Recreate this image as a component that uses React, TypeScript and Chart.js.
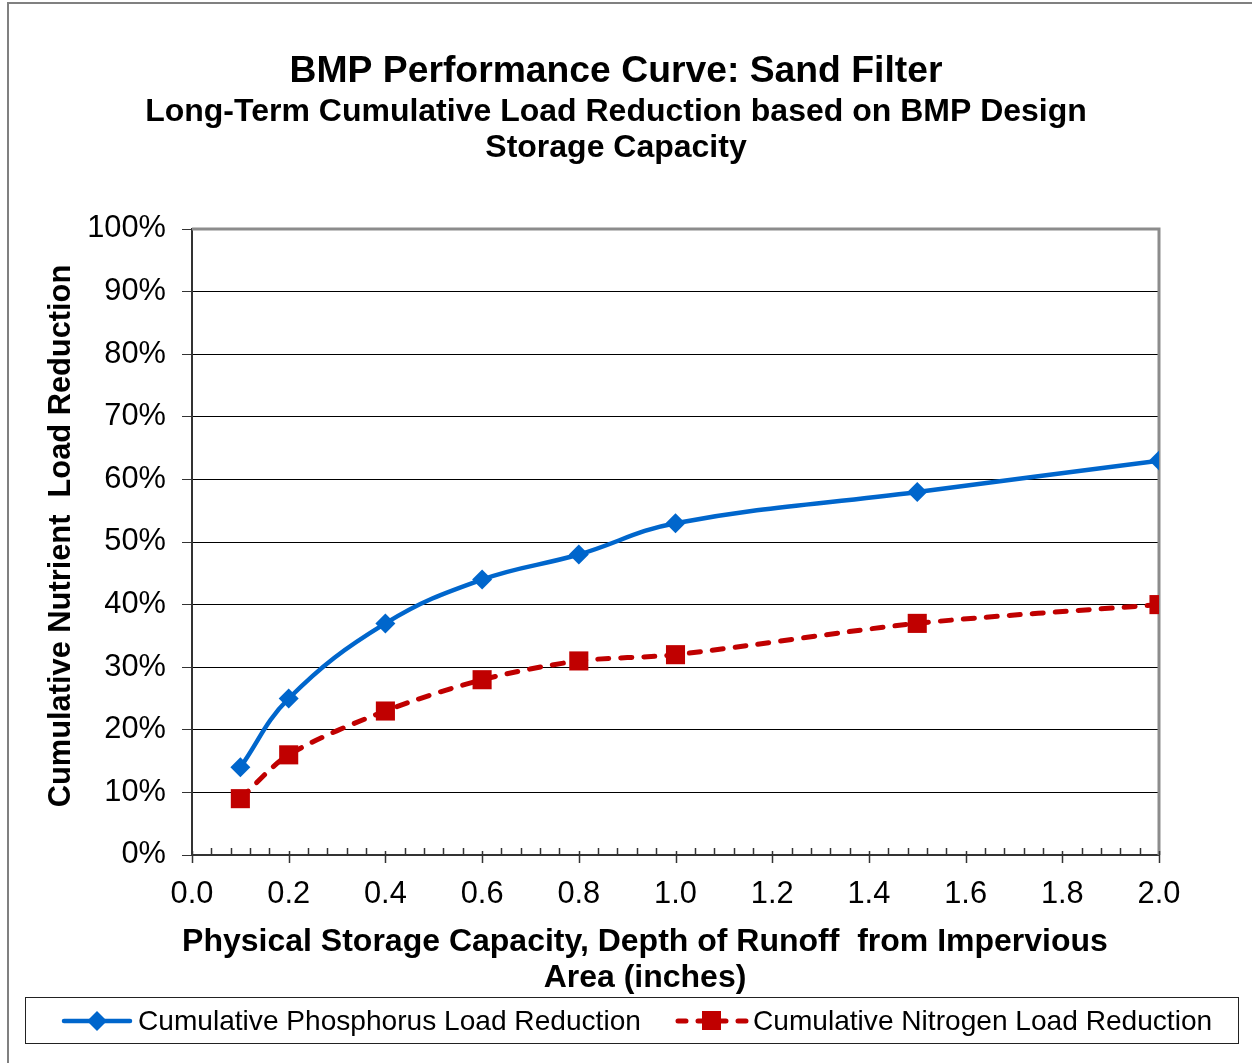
import React, { useEffect, useRef } from "react";
import { Chart, registerables } from "chart.js";

Chart.register(...registerables);

const xValues = [0.1, 0.2, 0.4, 0.6, 0.8, 1.0, 1.5, 2.0];
const phosphorus = [14, 25, 37, 44, 48, 53, 58, 63];
const nitrogen = [9, 16, 23, 28, 31, 32, 37, 40];
const seriesNames = ["Cumulative Phosphorus Load Reduction", "Cumulative Nitrogen Load Reduction"];
const titleText = "BMP Performance Curve: Sand Filter";
const subtitleLines = ["Long-Term Cumulative Load Reduction based on BMP Design", "Storage Capacity"];
const yTitle = "Cumulative Nutrient  Load Reduction";
const xTitleLines = ["Physical Storage Capacity, Depth of Runoff  from Impervious", "Area (inches)"];

const BLUE = "#0066CC";
const RED = "#C00000";
const FONT = '"Liberation Sans", Arial, sans-serif';

export default function App() {
  const ref = useRef<HTMLCanvasElement>(null);
  useEffect(() => {
    if (!ref.current) return;
    const decor = {
      id: "decor",
      beforeDraw(chart: any) {
        const ctx = chart.ctx;
        ctx.save();
        ctx.fillStyle = "#fff";
        ctx.fillRect(0, 0, chart.width, chart.height);
        ctx.strokeStyle = "#808080";
        ctx.lineWidth = 2;
        ctx.strokeRect(8, 3, 2000, 2000);
        ctx.restore();
      },
      beforeDatasetsDraw(chart: any) {
        const ctx = chart.ctx;
        const a = chart.chartArea;
        const xs = chart.scales.x;
        ctx.save();
        ctx.strokeStyle = "#8c8c8c";
        ctx.lineWidth = 3;
        ctx.beginPath();
        ctx.moveTo(a.left, a.top);
        ctx.lineTo(a.right, a.top);
        ctx.lineTo(a.right, a.bottom);
        ctx.stroke();
        ctx.strokeStyle = "#333";
        ctx.lineWidth = 1.5;
        for (let i = 0; i <= 50; i++) {
          const v = i * 0.04;
          const px = Math.round(xs.getPixelForValue(v)) + 0.5;
          ctx.beginPath();
          if (i % 5 === 0) {
            ctx.moveTo(px, a.bottom - 4);
            ctx.lineTo(px, a.bottom + 8);
          } else {
            ctx.moveTo(px, a.bottom - 7);
            ctx.lineTo(px, a.bottom);
          }
          ctx.stroke();
        }
        ctx.restore();
      },
      afterDraw(chart: any) {
        const ctx = chart.ctx;
        ctx.save();
        ctx.fillStyle = "#000";
        ctx.textAlign = "center";
        ctx.textBaseline = "middle";
        ctx.font = `bold 37.3px ${FONT}`;
        ctx.fillText(titleText, 616, 72);
        ctx.font = `bold 32px ${FONT}`;
        ctx.fillText(subtitleLines[0], 616, 112);
        ctx.fillText(subtitleLines[1], 616, 148);
        ctx.fillText(xTitleLines[0], 645, 942);
        ctx.fillText(xTitleLines[1], 645, 978);
        ctx.save();
        ctx.translate(62, 536);
        ctx.rotate(-Math.PI / 2);
        ctx.font = `bold 30.8px ${FONT}`;
        ctx.fillText(yTitle, 0, 0);
        ctx.restore();
        // legend
        ctx.strokeStyle = "#222";
        ctx.lineWidth = 1;
        ctx.strokeRect(25.5, 997.5, 1213, 46);
        const ly = 1021;
        ctx.lineCap = "round";
        ctx.strokeStyle = BLUE;
        ctx.lineWidth = 4.5;
        ctx.beginPath();
        ctx.moveTo(64, ly);
        ctx.lineTo(130, ly);
        ctx.stroke();
        ctx.fillStyle = BLUE;
        ctx.beginPath();
        ctx.moveTo(97, ly - 10);
        ctx.lineTo(107, ly);
        ctx.lineTo(97, ly + 10);
        ctx.lineTo(87, ly);
        ctx.closePath();
        ctx.fill();
        ctx.strokeStyle = RED;
        ctx.lineWidth = 5;
        ctx.setLineDash([8, 12]);
        ctx.beginPath();
        ctx.moveTo(678, ly);
        ctx.lineTo(746, ly);
        ctx.stroke();
        ctx.setLineDash([]);
        ctx.fillStyle = RED;
        ctx.fillRect(702, ly - 10, 19, 19);
        ctx.fillStyle = "#000";
        ctx.textAlign = "left";
        ctx.font = `28.1px ${FONT}`;
        ctx.fillText(seriesNames[0], 138, ly + 1);
        ctx.fillText(seriesNames[1], 753, ly + 1);
        ctx.restore();
      },
    };

    const chart = new Chart(ref.current, {
      type: "line",
      data: {
        datasets: [
          {
            label: seriesNames[0],
            data: xValues.map((x, i) => ({ x, y: phosphorus[i] })),
            borderColor: BLUE,
            backgroundColor: BLUE,
            borderWidth: 4.5,
            tension: 0.4,
            pointStyle: "rectRot",
            pointRadius: 10,
            pointBorderWidth: 0,
            pointBackgroundColor: BLUE,
            borderCapStyle: "round",
          },
          {
            label: seriesNames[1],
            data: xValues.map((x, i) => ({ x, y: nitrogen[i] })),
            borderColor: RED,
            backgroundColor: RED,
            borderWidth: 5,
            borderDash: [11, 12],
            borderCapStyle: "round",
            tension: 0.3,
            pointStyle: "rect",
            pointRadius: 13.5,
            pointBorderWidth: 0,
            pointBackgroundColor: RED,
          },
        ],
      },
      options: {
        animation: false,
        responsive: false,
        devicePixelRatio: 1,
        layout: { padding: { top: 229, right: 93, left: 0, bottom: 0 } },
        plugins: { legend: { display: false }, title: { display: false }, tooltip: { enabled: false } },
        scales: {
          x: {
            type: "linear",
            min: 0,
            max: 2,
            afterFit: (s: any) => {
              s.height = 208;
            },
            grid: { display: true, drawOnChartArea: false, drawTicks: false, color: "rgba(0,0,0,0)" },
            border: { display: true, color: "#333", width: 2 },
            ticks: {
              stepSize: 0.2,
              padding: 21,
              color: "#000",
              font: { family: FONT, size: 30.8 },
              callback: (v: any) => Number(v).toFixed(1),
            },
          },
          y: {
            min: 0,
            max: 100,
            afterFit: (s: any) => {
              s.width = 192;
            },
            grid: { color: "#000", lineWidth: 1, drawTicks: true, tickLength: 10, tickColor: "#333" },
            border: { display: true, color: "#333", width: 2 },
            ticks: {
              stepSize: 10,
              padding: 16,
              color: "#000",
              font: { family: FONT, size: 30.8 },
              callback: (v: any) => `${v}%`,
            },
          },
        },
      },
      plugins: [decor],
    });
    return () => chart.destroy();
  }, []);

  return (
    <div style={{ position: "absolute", left: 0, top: 0, width: 1252, height: 1063 }}>
      <canvas ref={ref} width={1252} height={1063} style={{ display: "block", width: 1252, height: 1063 }} />
    </div>
  );
}
